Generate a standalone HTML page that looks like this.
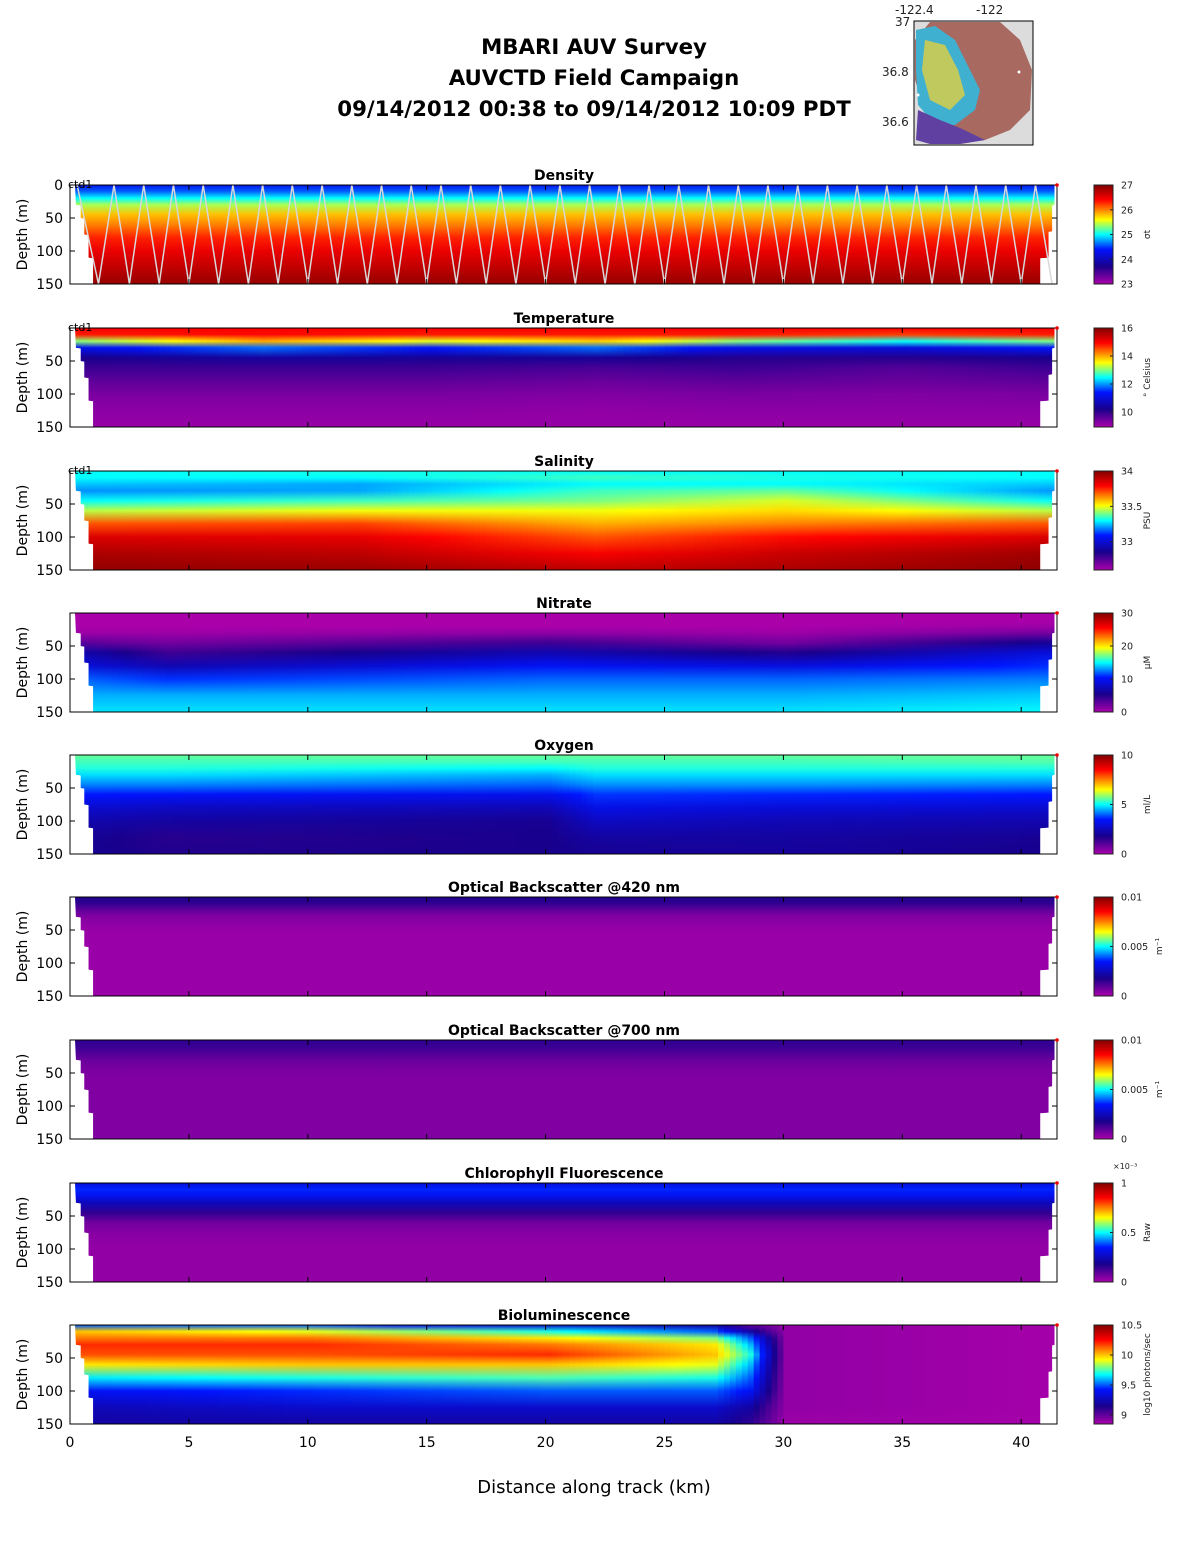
<!DOCTYPE html>
<html><head><meta charset="utf-8"><style>
body{margin:0;background:#fff}
svg{display:block;font-family:"DejaVu Sans","Liberation Sans",sans-serif}
</style></head><body>
<svg id="fig" width="1188" height="1548" viewBox="0 0 1188 1548" xmlns="http://www.w3.org/2000/svg">
<defs id="defs"></defs>
<g font-weight="bold" font-size="21.3" text-anchor="middle" fill="#000">
<text x="594" y="54">MBARI AUV Survey</text>
<text x="594" y="85">AUVCTD Field Campaign</text>
<text x="594" y="116">09/14/2012 00:38  to 09/14/2012 10:09 PDT</text>
</g>
<g>
<rect x="914" y="21" width="119" height="124" fill="#dcdcdc" stroke="#000" stroke-width="1"/>
<path d="M930,22 L1000,22 L1020,40 L1032,70 L1030,110 L1010,130 L985,140 L960,144 L940,130 L925,110 L915,80 L915,40 Z" fill="#a86a60"/>
<path d="M916,30 L935,26 L955,40 L965,60 L980,90 L975,110 L955,125 L935,125 L918,105 L916,70 Z" fill="#40b0d0"/>
<path d="M925,40 L945,45 L958,70 L965,95 L950,110 L930,100 L922,70 Z" fill="#e0d040" opacity="0.8"/>
<path d="M918,110 L940,120 L960,128 L985,140 L960,144 L930,144 L916,140 Z" fill="#6040a0"/>
<circle cx="1019" cy="72" r="1.5" fill="#fff"/><circle cx="918" cy="95" r="1.5" fill="#fff"/>
<g font-size="12" fill="#222"><text x="895" y="14">-122.4</text><text x="976" y="14">-122</text>
<text x="895" y="26">37</text><text x="882" y="76">36.8</text><text x="882" y="126">36.6</text></g>
</g>
<g id="panels"></g>
<g id="xaxis"></g>
<text x="594" y="1493" font-size="18" text-anchor="middle">Distance along track (km)</text>
</svg>
<script>
const depthLevels=[0,10,20,30,45,60,80,100,125,150];
const xTicks=[0,5,10,15,20,25,30,35,40];
const densityKm=[0,41.5];
const densityProfiles=[[24.3,24.6,25.0,25.4,25.8,26.0,26.3,26.5,26.7,26.9],[24.3,24.6,25.0,25.4,25.8,26.0,26.3,26.5,26.7,26.9]];
const tempKm=[0,8,15,22,28,35,41.5];
const tempProfiles=[[15.0,14.8,13.0,11.2,10.2,9.9,9.6,9.35,9.2,9.1],[15.0,14.9,14.0,11.8,10.4,9.9,9.6,9.35,9.2,9.1],[15.0,14.8,13.4,11.4,10.3,9.9,9.6,9.35,9.2,9.1],[15.0,14.8,13.8,11.8,10.3,9.8,9.5,9.3,9.15,9.1],[15.0,14.8,13.0,11.2,10.1,9.9,9.6,9.35,9.2,9.1],[15.0,14.6,12.5,11.0,10.1,9.7,9.5,9.3,9.2,9.1],[15.0,14.8,13.0,11.4,10.2,9.9,9.6,9.35,9.2,9.1]];
const salKm=[0,12,22,30,41.5];
const salProfiles=[[33.3,33.3,33.25,33.2,33.3,33.45,33.7,33.85,33.93,33.97],[33.32,33.3,33.22,33.22,33.35,33.5,33.72,33.83,33.9,33.96],[33.3,33.35,33.3,33.35,33.4,33.5,33.6,33.7,33.8,33.9],[33.3,33.32,33.3,33.38,33.48,33.55,33.65,33.78,33.88,33.93],[33.3,33.3,33.25,33.2,33.3,33.45,33.7,33.85,33.95,33.98]];
const nitKm=[0,4,20,30,41.5];
const nitProfiles=[[0,0,0,0.5,3,7,9,12,13.5,14.5],[0,0,0,0.5,2,4,7,11,13.5,14.5],[0,0,0,1,4,7,10,12,13.5,14.5],[0,0,0,0.5,2,5,9,12,13.5,14.5],[0,0,0.5,2,6,9,11,12.5,14,15]];
const oxyKm=[0,4,20,22,30,41.5];
const oxyProfiles=[[5.6,5.4,5.2,4.8,4.2,3.5,2.8,2.3,2.0,1.9],[5.6,5.4,5.2,4.8,4.2,3.4,2.6,2.1,1.6,1.7],[5.6,5.4,5.0,4.5,4.0,3.2,2.4,1.9,1.8,1.8],[5.6,5.4,5.2,4.8,4.3,3.7,3.1,2.6,2.1,1.9],[5.6,5.4,5.2,4.8,4.3,3.6,2.9,2.4,2.1,2.0],[5.6,5.5,5.2,4.8,4.2,3.5,2.8,2.3,1.9,1.8]];
const bb420Km=[0,41.5];
const bb420Profiles=[[0.0017,0.0015,0.0009,0.0005,0.0003,0.0002,0.0002,0.0002,0.0002,0.0002],[0.0017,0.0015,0.0009,0.0005,0.0003,0.0002,0.0002,0.0002,0.0002,0.0002]];
const bb700Km=[0,41.5];
const bb700Profiles=[[0.0015,0.0014,0.0011,0.0008,0.0006,0.0005,0.0005,0.0005,0.0005,0.0005],[0.0015,0.0014,0.0011,0.0008,0.0006,0.0005,0.0005,0.0005,0.0005,0.0005]];
const chlKm=[0,41.5];
const chlProfiles=[[0.30,0.36,0.32,0.25,0.15,0.07,0.04,0.03,0.03,0.03],[0.30,0.36,0.32,0.25,0.15,0.07,0.04,0.03,0.03,0.03]];
const bioKm=[0,10,20,27,28.5,30,41.5];
const bioProfiles=[[9.5,10.0,10.1,10.2,10.15,9.95,9.65,9.4,9.25,9.2],[9.5,9.9,10.1,10.2,10.15,10.0,9.7,9.45,9.3,9.2],[9.3,9.7,9.95,10.1,10.2,10.0,9.75,9.5,9.3,9.2],[9.2,9.5,9.8,9.95,10.0,9.9,9.7,9.5,9.3,9.2],[9.0,9.2,9.5,9.6,9.7,9.6,9.5,9.4,9.2,9.1],[8.9,8.9,8.9,8.9,8.9,8.9,8.9,8.9,8.9,8.88],[8.86,8.86,8.86,8.86,8.86,8.86,8.86,8.86,8.86,8.86]];
const yoyoTurnKm=[0.3,1.2,1.85,2.5,3.1,3.75,4.35,5.0,5.6,6.25,6.85,7.5,8.1,8.75,9.35,10.0,10.6,11.25,11.85,12.5,13.1,13.75,14.35,15.0,15.6,16.25,16.85,17.5,18.1,18.75,19.35,20.0,20.6,21.25,21.85,22.5,23.1,23.75,24.35,25.0,25.6,26.25,26.85,27.5,28.1,28.75,29.35,30.0,30.6,31.25,31.85,32.5,33.1,33.75,34.35,35.0,35.6,36.25,36.85,37.5,38.1,38.75,39.35,40.0,40.6,41.3];
const yoyoTurnDepth=[0,150,0,150,0,150,0,150,0,150,0,150,0,150,0,150,0,150,0,150,0,150,0,150,0,150,0,150,0,150,0,150,0,150,0,150,0,150,0,150,0,150,0,150,0,150,0,150,0,150,0,150,0,150,0,150,0,150,0,150,0,150,0,150,0,150];

const panels=[
{id:'density',title:'Density',top:185,km:densityKm,prof:densityProfiles,min:23,max:27,ticks:[23,24,25,26,27],tl:['23','24','25','26','27'],unit:'σt',zero:true,ctd:true},
{id:'temperature',title:'Temperature',top:328,km:tempKm,prof:tempProfiles,min:8.93,max:16,ticks:[10,12,14,16],tl:['10','12','14','16'],unit:'° Celsius',ctd:true},
{id:'salinity',title:'Salinity',top:471,km:salKm,prof:salProfiles,min:32.6,max:34,ticks:[33,33.5,34],tl:['33','33.5','34'],unit:'PSU',ctd:true},
{id:'nitrate',title:'Nitrate',top:613,km:nitKm,prof:nitProfiles,min:0,max:30,ticks:[0,10,20,30],tl:['0','10','20','30'],unit:'μM'},
{id:'oxygen',title:'Oxygen',top:755,km:oxyKm,prof:oxyProfiles,min:0,max:10,ticks:[0,5,10],tl:['0','5','10'],unit:'ml/L'},
{id:'bb420',title:'Optical Backscatter @420 nm',top:897,km:bb420Km,prof:bb420Profiles,min:0,max:0.01,ticks:[0,0.005,0.01],tl:['0','0.005','0.01'],unit:'m⁻¹',ux:1162},
{id:'bb700',title:'Optical Backscatter @700 nm',top:1040,km:bb700Km,prof:bb700Profiles,min:0,max:0.01,ticks:[0,0.005,0.01],tl:['0','0.005','0.01'],unit:'m⁻¹',ux:1162},
{id:'chlorophyll',title:'Chlorophyll Fluorescence',top:1183,km:chlKm,prof:chlProfiles,min:0,max:1,ticks:[0,0.5,1],tl:['0','0.5','1'],unit:'Raw',exp:true},
{id:'bioluminescence',title:'Bioluminescence',top:1325,km:bioKm,prof:bioProfiles,min:8.85,max:10.5,ticks:[9,9.5,10,10.5],tl:['9','9.5','10','10.5'],unit:'log10 photons/sec'}
];
const X0=70,PX_KM=23.78,H=99,XR=1057,CBX=1094,CBW=19;
const xs=k=>X0+k*PX_KM;
const cmapStops=[[0,[170,0,170]],[0.18,[24,0,140]],[0.35,[0,20,255]],[0.5,[0,255,255]],[0.65,[255,255,0]],[0.85,[255,0,0]],[1,[128,0,0]]];
function cmap(t){t=Math.max(0,Math.min(1,t));for(let i=1;i<cmapStops.length;i++){const[a,ca]=cmapStops[i-1],[b,cb]=cmapStops[i];if(t<=b){const f=(t-a)/(b-a);return 'rgb('+ca.map((c,j)=>Math.round(c+(cb[j]-c)*f)).join(',')+')';}}return 'rgb(128,0,0)';}
const NS='http://www.w3.org/2000/svg';
function mk(tag,attrs,parent){const e=document.createElementNS(NS,tag);for(const k in attrs)e.setAttribute(k,attrs[k]);if(parent)parent.appendChild(e);return e;}
const defs=document.getElementById('defs'),root=document.getElementById('panels');
const leftEdge=[[0,0.21],[30,0.25],[31,0.45],[50,0.45],[51,0.6],[75,0.6],[76,0.78],[110,0.78],[111,0.97],[150,0.97]];
const rightEdge=[[0,41.4],[30,41.4],[31,41.3],[70,41.3],[71,41.15],[110,41.15],[111,40.8],[150,40.8]];
panels.forEach((p,pi)=>{
  const ys=d=>p.top+d/150*H;
  const g=mk('g',{},root);
  
  
  const clip=mk('clipPath',{id:'clip'+pi},defs);
  const pts=leftEdge.map(([d,k])=>xs(k)+','+ys(d)).concat(rightEdge.slice().reverse().map(([d,k])=>xs(k)+','+ys(d)));
  mk('polygon',{points:pts.join(' ')},clip);
  const field=mk('g',{'clip-path':'url(#clip'+pi+')'},g);
  
  
  const step=0.25;
  for(let k=0;k<41.7;k+=step){
    let j=0;while(j<p.km.length-2&&k>p.km[j+1])j++;
    const f=Math.max(0,Math.min(1,(k-p.km[j])/(p.km[j+1]-p.km[j])));
    const gid='g'+pi+'_'+Math.round(k*100);
    const lg=mk('linearGradient',{id:gid,x1:0,y1:0,x2:0,y2:1},defs);
    depthLevels.forEach((d,i)=>{const v=p.prof[j][i]*(1-f)+p.prof[j+1][i]*f;mk('stop',{offset:d/150,'stop-color':cmap((v-p.min)/(p.max-p.min))},lg);});
    const r=mk('rect',{x:xs(k),y:p.top,width:step*PX_KM+0.6,height:H,fill:'url(#'+gid+')'},field);
    
    
  }
  if(pi===0){
    const path=yoyoTurnKm.map((k,i)=>(i?'L':'M')+xs(k).toFixed(1)+','+ys(yoyoTurnDepth[i]).toFixed(1)).join(' ');
    const tr=mk('path',{d:path,fill:'none',stroke:'#d8d8d8','stroke-width':1.5},g);
    
    
  }
  const ax=mk('rect',{x:X0,y:p.top,width:XR-X0,height:H,fill:'none',stroke:'#000','stroke-width':1},g);
  
  
  xTicks.forEach(t=>{mk('line',{x1:xs(t),x2:xs(t),y1:p.top+H,y2:p.top+H-5,stroke:'#000'},g);mk('line',{x1:xs(t),x2:xs(t),y1:p.top,y2:p.top+5,stroke:'#000'},g);});
  [0,50,100,150].forEach(d=>{
    mk('line',{x1:X0,x2:X0+5,y1:ys(d),y2:ys(d),stroke:'#000'},g);
    mk('line',{x1:XR,x2:XR-5,y1:ys(d),y2:ys(d),stroke:'#000'},g);
    if(d>0||p.zero){const t=mk('text',{x:63,y:ys(d)+5,'font-size':14,'text-anchor':'end'},g);t.textContent=d;
      }
  });
  const yl=mk('text',{x:27,y:p.top+H/2,'font-size':14,'text-anchor':'middle',transform:'rotate(-90 27 '+(p.top+H/2)+')'},g);
  yl.textContent='Depth (m)';
  
  
  const tt=mk('text',{x:564,y:p.top-5,'font-size':14,'font-weight':'bold','text-anchor':'middle'},g);
  tt.textContent=p.title;
  
  
  if(p.ctd){const c=mk('text',{x:68,y:p.top+3,'font-size':11},g);c.textContent='ctd1';
    }
  mk('circle',{cx:XR,cy:p.top,r:1.8,fill:'#e00'},g);
  const cg=mk('g',{},g);
  
  
  const cid='cb'+pi;const lg=mk('linearGradient',{id:cid,x1:0,y1:1,x2:0,y2:0},defs);
  cmapStops.forEach(([o,c])=>mk('stop',{offset:o,'stop-color':'rgb('+c.join(',')+')'},lg));
  mk('rect',{x:CBX,y:p.top,width:CBW,height:H,fill:'url(#'+cid+')',stroke:'#222','stroke-width':1},cg);
  p.ticks.forEach((t,i)=>{const y=p.top+H-(t-p.min)/(p.max-p.min)*H;
    mk('line',{x1:CBX+CBW,x2:CBX+CBW-3,y1:y,y2:y,stroke:'#222'},cg);
    const tx=mk('text',{x:CBX+CBW+8,y:y+3.5,'font-size':9.5,fill:'#222'},cg);tx.textContent=p.tl[i];
    });
  const ux=p.ux||1150,uy=p.top+H/2;
  const ut=mk('text',{x:ux,y:uy,'font-size':9,'text-anchor':'middle',fill:'#222',transform:'rotate(-90 '+ux+' '+uy+')'},cg);
  ut.textContent=p.unit;
  
  
  if(p.exp){const e=mk('text',{x:1113,y:p.top-14,'font-size':8,fill:'#222'},cg);e.textContent='×10⁻³';}
});
const xa=document.getElementById('xaxis');
xTicks.forEach(t=>{const tx=mk('text',{x:xs(t),y:1447,'font-size':14,'text-anchor':'middle'},xa);tx.textContent=t;
  });
</script>
</body></html>
